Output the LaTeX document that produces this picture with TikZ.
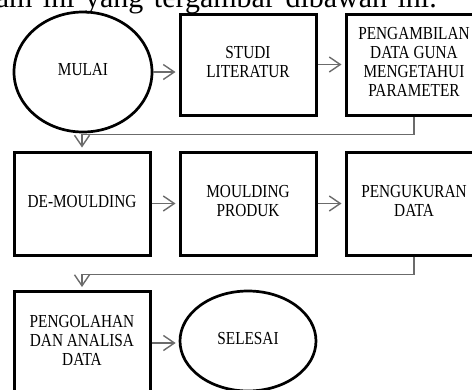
\documentclass[tikz,border=0pt]{standalone}
\usepackage{fontspec}
\setmainfont{Liberation Serif}
\usetikzlibrary{shapes.geometric,arrows.meta,calc}
\newcommand\stx[1]{\scalebox{1}[1.2]{\begin{tabular}{@{}c@{}}#1\end{tabular}}}
\begin{document}
\begin{tikzpicture}[x=1pt,y=-1pt,
  box/.style={draw, line width=3pt, minimum width=136pt, minimum height=101pt, align=center, inner sep=0pt,
    font=\fontsize{15.3}{15.8}\selectfont},
  oval/.style={draw, ellipse, line width=2.7pt, inner sep=0pt, align=center, font=\fontsize{15.3}{15.8}\selectfont},
  conn/.style={draw=black!58, line width=1.4pt, -{Straight Barb[length=11pt,width=15pt,line width=1.4pt]}, shorten >=3pt},
  tall/.style={minimum height=103pt}]
\useasboundingbox (0,0) rectangle (472,389);
\clip (0,0) rectangle (472,389);
\node[anchor=base east, inner sep=0pt, font=\fontsize{30}{33}\selectfont] (top) at (437,7.5) {\spaceskip=10.5pt ram ini yang tergambar dibawah ini.};
\node[oval, minimum width=138pt, minimum height=120pt] (mulai) at (83,72) {\stx{MULAI}};
\node[box] (studi) at (248,64.5) {\stx{STUDI\\LITERATUR}};
\node[box] (ambil) at (414,64.5) {\stx{PENGAMBILAN\\DATA GUNA\\MENGETAHUI\\PARAMETER}};
\node[box, tall] (demould) at (82,203.5) {\stx{DE-MOULDING}};
\node[box, tall] (mould) at (248,203.5) {\stx{MOULDING\\PRODUK}};
\node[box, tall] (ukur) at (414,203.5) {\stx{PENGUKURAN\\DATA}};
\node[box, tall] (olah) at (82,343) {\stx{PENGOLAHAN\\DAN ANALISA\\DATA}};
\node[oval, minimum width=136pt, minimum height=100pt] (selesai) at (248,341) {\stx{SELESAI}};
\draw[conn] (mulai.east) -- (mulai.east -| studi.west);
\draw[conn] (studi.east) -- (ambil.west);
\draw[conn] (ambil.south) -- ++(0,18) -| (demould.north);
\draw[conn] (demould.east) -- (mould.west);
\draw[conn] (mould.east) -- (ukur.west);
\draw[conn] (ukur.south) -- ++(0,18) -| (olah.north);
\draw[conn] (olah.east) -- (olah.east -| selesai.west);
\end{tikzpicture}
\end{document}
